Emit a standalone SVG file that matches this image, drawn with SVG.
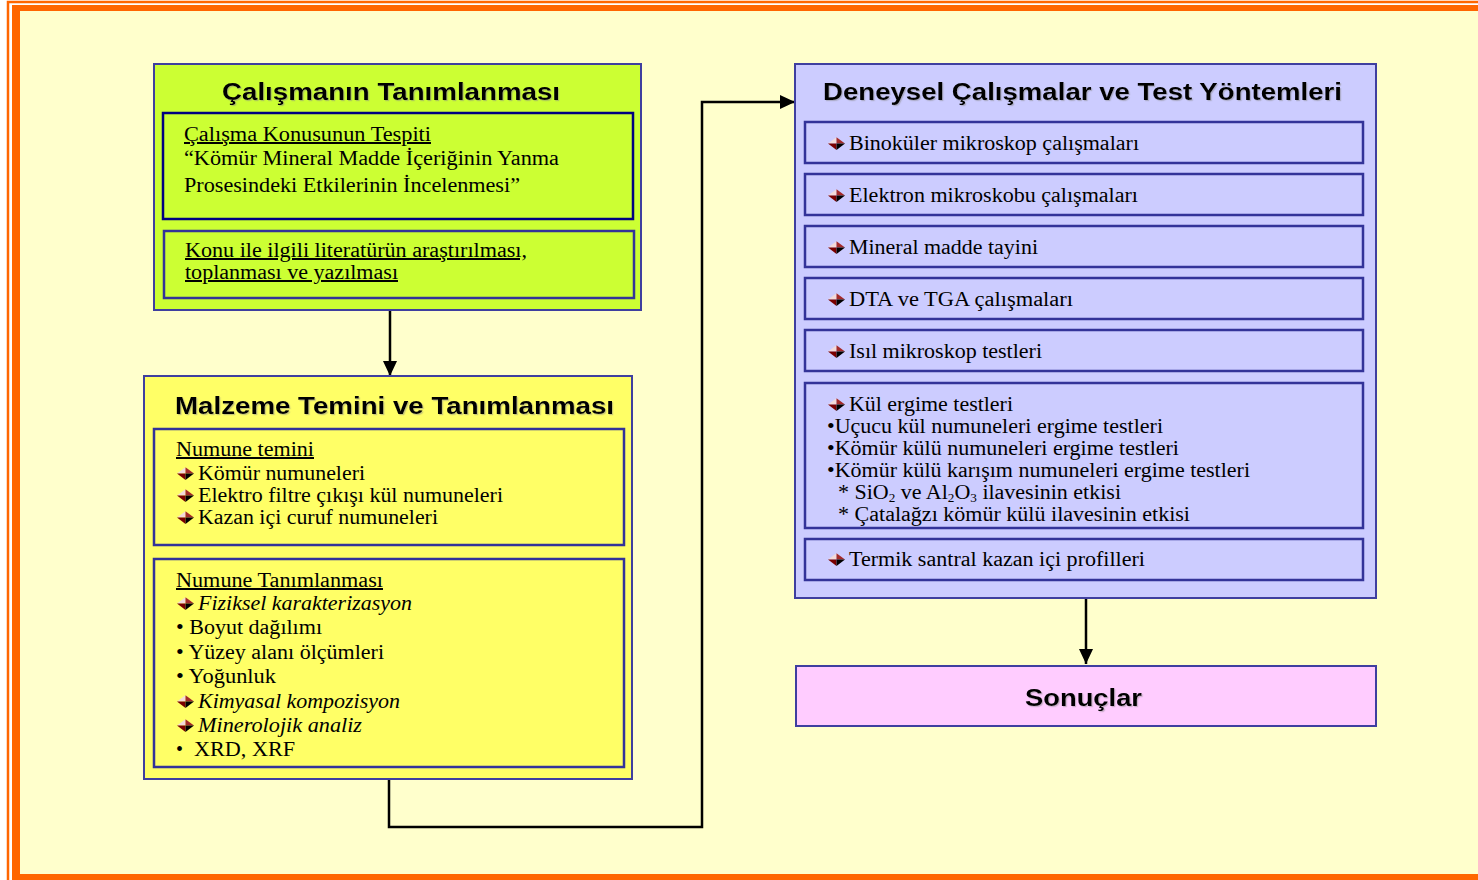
<svg xmlns="http://www.w3.org/2000/svg" xmlns:xlink="http://www.w3.org/1999/xlink" width="1478" height="880" viewBox="0 0 1478 880">
<style>
.outer{stroke:#3F3F9F;stroke-width:2}
.inner{fill:none;stroke:#333399;stroke-width:2.5}
.title{font-family:"Liberation Sans",Arial,sans-serif;font-weight:bold;font-size:23px;fill:#000;filter:url(#sh)}
.body{font-family:"Liberation Serif","Times New Roman",serif;font-size:20px;fill:#000}
.u{text-decoration:underline}
.i{font-style:italic}
.conn{fill:none;stroke:#000;stroke-width:2.5}
</style>
<defs>
<filter id="sh" x="-5%" y="-20%" width="110%" height="140%">
<feDropShadow dx="1.2" dy="1.2" stdDeviation="0.6" flood-color="#888" flood-opacity="0.45"/>
</filter>
<marker id="ah" markerUnits="userSpaceOnUse" markerWidth="16" markerHeight="16" viewBox="0 0 16 16" refX="15" refY="8" orient="auto">
<path d="M0,1 L15,8 L0,15 Z" fill="#000"/>
</marker>
<symbol id="bul" viewBox="0 0 16 12" width="17" height="13">
<polygon points="0,6 8,0 8,6" fill="#F3DADA"/>
<polygon points="8,0 16,6 8,6" fill="#A52A2A"/>
<polygon points="0,6 8,6 8,12" fill="#7A0000"/>
<polygon points="8,6 16,6 8,12" fill="#000"/>
</symbol>
</defs>
<g id="background">
<rect x="0" y="0" width="1478" height="880" fill="#FFFFFF"/>
<path d="M8,880 V2 H1478" fill="none" stroke="#FF6600" stroke-width="2.5"/>
<rect x="12" y="5" width="1470" height="880" fill="#FF6600"/>
<rect x="20" y="11" width="1460" height="863" fill="#FFFFCC"/>
</g>
<g id="connectors">
<path class="conn" d="M390,311 V376" marker-end="url(#ah)"/>
<path class="conn" d="M389,780 V827 H702 V102 H795" marker-end="url(#ah)"/>
<path class="conn" d="M1086,598 V664" marker-end="url(#ah)"/>
</g>
<g id="node-calisma">
<rect class="outer" x="154" y="64" width="487" height="246" fill="#CCFF33"/>
<text class="title" x="222" y="100" textLength="338" lengthAdjust="spacingAndGlyphs">Çalışmanın Tanımlanması</text>
<rect x="163" y="113" width="470" height="106" fill="none" stroke="#000080" stroke-width="2.5"/>
<text class="body u" x="184" y="141" textLength="247" lengthAdjust="spacingAndGlyphs">Çalışma Konusunun Tespiti</text>
<text class="body" x="184" y="165" textLength="375" lengthAdjust="spacingAndGlyphs">“Kömür Mineral Madde İçeriğinin Yanma</text>
<text class="body" x="184" y="192" textLength="336" lengthAdjust="spacingAndGlyphs">Prosesindeki Etkilerinin İncelenmesi”</text>
<rect class="inner" x="164" y="231" width="470" height="67"/>
<text class="body u" x="185" y="257" textLength="342" lengthAdjust="spacingAndGlyphs">Konu ile ilgili literatürün araştırılması,</text>
<text class="body u" x="185" y="279" textLength="213" lengthAdjust="spacingAndGlyphs">toplanması ve yazılması</text>
</g>
<g id="node-malzeme">
<rect class="outer" x="144" y="376" width="488" height="403" fill="#FFFF66"/>
<text class="title" x="175" y="414" textLength="439" lengthAdjust="spacingAndGlyphs">Malzeme Temini ve Tanımlanması</text>
<rect class="inner" x="154" y="429" width="470" height="116"/>
<text class="body u" x="176" y="456" textLength="138" lengthAdjust="spacingAndGlyphs">Numune temini</text>
<use href="#bul" x="177" y="467"/>
<text class="body" x="198" y="480" textLength="167" lengthAdjust="spacingAndGlyphs">Kömür numuneleri</text>
<use href="#bul" x="177" y="489"/>
<text class="body" x="198" y="502" textLength="305" lengthAdjust="spacingAndGlyphs">Elektro filtre çıkışı kül numuneleri</text>
<use href="#bul" x="177" y="511"/>
<text class="body" x="198" y="524" textLength="240" lengthAdjust="spacingAndGlyphs">Kazan içi curuf numuneleri</text>
<rect class="inner" x="154" y="559" width="470" height="208"/>
<text class="body u" x="176" y="587" textLength="207" lengthAdjust="spacingAndGlyphs">Numune Tanımlanması</text>
<use href="#bul" x="177" y="597"/>
<text class="body i" x="198" y="610" textLength="214" lengthAdjust="spacingAndGlyphs">Fiziksel karakterizasyon</text>
<text class="body" x="176" y="634" textLength="146" lengthAdjust="spacingAndGlyphs">• Boyut dağılımı</text>
<text class="body" x="176" y="659" textLength="208" lengthAdjust="spacingAndGlyphs">• Yüzey alanı ölçümleri</text>
<text class="body" x="176" y="683" textLength="100" lengthAdjust="spacingAndGlyphs">• Yoğunluk</text>
<use href="#bul" x="177" y="695"/>
<text class="body i" x="198" y="708" textLength="202" lengthAdjust="spacingAndGlyphs">Kimyasal kompozisyon</text>
<use href="#bul" x="177" y="719"/>
<text class="body i" x="198" y="732" textLength="164" lengthAdjust="spacingAndGlyphs">Minerolojik analiz</text>
<text class="body" x="176" y="756">•</text>
<text class="body" x="194" y="756" textLength="101" lengthAdjust="spacingAndGlyphs">XRD, XRF</text>
</g>
<g id="node-deneysel">
<rect class="outer" x="795" y="64" width="581" height="534" fill="#CCCCFF"/>
<text class="title" x="823" y="100" textLength="519" lengthAdjust="spacingAndGlyphs">Deneysel Çalışmalar ve Test Yöntemleri</text>
<rect class="inner" x="805" y="122" width="558" height="41"/>
<use href="#bul" x="828" y="137"/>
<text class="body" x="849" y="150" textLength="290" lengthAdjust="spacingAndGlyphs">Binoküler mikroskop çalışmaları</text>
<rect class="inner" x="805" y="174" width="558" height="41"/>
<use href="#bul" x="828" y="189"/>
<text class="body" x="849" y="202" textLength="289" lengthAdjust="spacingAndGlyphs">Elektron mikroskobu çalışmaları</text>
<rect class="inner" x="805" y="226" width="558" height="41"/>
<use href="#bul" x="828" y="241"/>
<text class="body" x="849" y="254" textLength="189" lengthAdjust="spacingAndGlyphs">Mineral madde tayini</text>
<rect class="inner" x="805" y="278" width="558" height="41"/>
<use href="#bul" x="828" y="293"/>
<text class="body" x="849" y="306" textLength="224" lengthAdjust="spacingAndGlyphs">DTA ve TGA çalışmaları</text>
<rect class="inner" x="805" y="330" width="558" height="41"/>
<use href="#bul" x="828" y="345"/>
<text class="body" x="849" y="358" textLength="193" lengthAdjust="spacingAndGlyphs">Isıl mikroskop testleri</text>
<rect class="inner" x="805" y="383" width="558" height="145"/>
<use href="#bul" x="828" y="398"/>
<text class="body" x="849" y="411" textLength="164" lengthAdjust="spacingAndGlyphs">Kül ergime testleri</text>
<text class="body" x="827" y="433" textLength="336" lengthAdjust="spacingAndGlyphs">•Uçucu kül numuneleri ergime testleri</text>
<text class="body" x="827" y="455" textLength="352" lengthAdjust="spacingAndGlyphs">•Kömür külü numuneleri ergime testleri</text>
<text class="body" x="827" y="477" textLength="423" lengthAdjust="spacingAndGlyphs">•Kömür külü karışım numuneleri ergime testleri</text>
<text class="body" x="838" y="499" textLength="283" lengthAdjust="spacingAndGlyphs">* SiO<tspan font-size="12" dy="3">2</tspan><tspan dy="-3"> ve Al</tspan><tspan font-size="12" dy="3">2</tspan><tspan dy="-3">O</tspan><tspan font-size="12" dy="3">3</tspan><tspan dy="-3"> ilavesinin etkisi</tspan></text>
<text class="body" x="838" y="521" textLength="352" lengthAdjust="spacingAndGlyphs">* Çatalağzı kömür külü ilavesinin etkisi</text>
<rect class="inner" x="805" y="539" width="558" height="41"/>
<use href="#bul" x="828" y="553"/>
<text class="body" x="849" y="566" textLength="296" lengthAdjust="spacingAndGlyphs">Termik santral kazan içi profilleri</text>
</g>
<g id="node-sonuclar">
<rect class="outer" x="796" y="666" width="580" height="60" fill="#FFCCFF"/>
<text class="title" x="1025" y="706" textLength="117" lengthAdjust="spacingAndGlyphs">Sonuçlar</text>
</g>
</svg>
